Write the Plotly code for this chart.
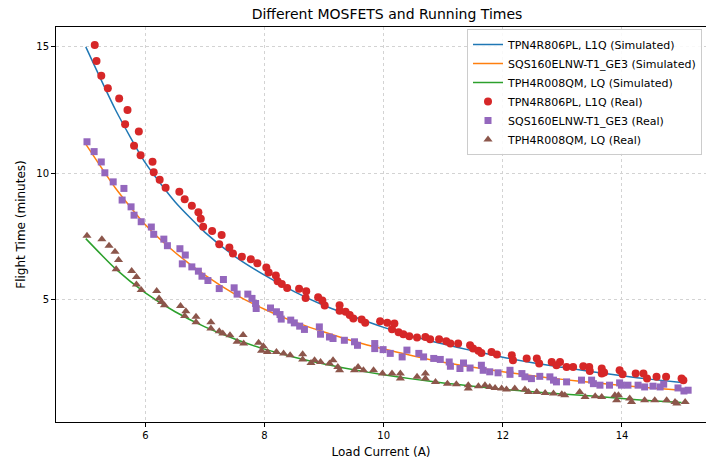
import plotly.graph_objects as go

# ---- Simulated curves (read at 0.5 A steps) ----
sim_x = [5.0, 5.5, 6.0, 6.5, 7.0, 7.5, 8.0, 8.5, 9.0, 9.5, 10.0, 10.5,
         11.0, 11.5, 12.0, 12.5, 13.0, 13.5, 14.0, 14.5, 15.0]
sim_tpn = [15.0, 12.5, 10.4, 8.85, 7.65, 6.7, 5.95, 5.3, 4.75, 4.3, 3.88, 3.52,
           3.22, 2.95, 2.7, 2.48, 2.3, 2.12, 1.96, 1.82, 1.7]
sim_sqs = [11.15, 9.4, 7.95, 6.85, 5.95, 5.2, 4.6, 4.1, 3.7, 3.33, 3.02, 2.75,
           2.5, 2.3, 2.12, 1.96, 1.82, 1.7, 1.58, 1.48, 1.39]
sim_tph = [7.4, 6.2, 5.25, 4.5, 3.9, 3.42, 3.02, 2.7, 2.43, 2.2, 2.0, 1.83,
           1.68, 1.55, 1.43, 1.33, 1.24, 1.16, 1.06, 0.97, 0.9]

# ---- Real measurements ----
real_tpn_x = [5.15, 5.18, 5.26, 5.37, 5.56, 5.70, 5.66, 5.89, 5.81, 5.92, 6.12, 6.14,
              6.24, 6.34, 6.57, 6.66, 6.78, 6.89, 6.93, 6.97, 7.12, 7.28, 7.24, 7.41,
              7.47, 7.62, 7.77, 7.88, 8.03, 8.07, 8.19, 8.22, 8.29, 8.38, 8.58, 8.70,
              8.69, 8.90, 8.97, 9.01, 9.26, 9.26, 9.36, 9.43, 9.49, 9.63, 9.69, 9.94,
              10.06, 10.18, 10.14, 10.25, 10.33, 10.43, 10.56, 10.70, 10.78, 10.93, 11.05, 11.12,
              11.25, 11.45, 11.50, 11.59, 11.64, 11.81, 11.90, 12.15, 12.17, 12.40, 12.57, 12.61,
              12.82, 12.90, 12.96, 13.07, 13.18, 13.35, 13.45, 13.46, 13.66, 13.66, 13.70, 13.96,
              14.01, 14.23, 14.36, 14.42, 14.58, 14.74, 15.00, 15.03]
real_tpn_y = [15.08, 14.44, 13.86, 13.36, 12.96, 12.50, 11.93, 11.65, 11.08, 10.71, 10.45, 10.03,
              9.73, 9.42, 9.26, 8.96, 8.70, 8.45, 8.19, 7.87, 7.70, 7.54, 7.18, 7.05,
              6.81, 6.68, 6.58, 6.42, 6.26, 6.06, 5.94, 5.71, 5.60, 5.44, 5.41, 5.31,
              5.05, 5.08, 4.95, 4.75, 4.76, 4.54, 4.50, 4.37, 4.23, 4.19, 4.06, 4.12,
              4.06, 4.04, 3.81, 3.69, 3.61, 3.53, 3.48, 3.50, 3.41, 3.41, 3.33, 3.24,
              3.24, 3.17, 3.04, 2.95, 2.87, 2.91, 2.81, 2.78, 2.58, 2.65, 2.65, 2.45,
              2.51, 2.38, 2.51, 2.31, 2.31, 2.34, 2.31, 2.15, 2.25, 2.05, 2.09, 2.18,
              2.02, 2.05, 2.05, 1.85, 1.92, 1.92, 1.85, 1.79]

real_sqs_x = [5.02, 5.14, 5.26, 5.32, 5.46, 5.64, 5.61, 5.76, 5.81, 5.93, 6.10, 6.14,
              6.31, 6.37, 6.58, 6.67, 6.62, 6.78, 6.89, 6.95, 7.05, 7.31, 7.24, 7.49,
              7.54, 7.72, 7.79, 7.85, 7.86, 8.10, 8.20, 8.26, 8.28, 8.44, 8.50, 8.59,
              8.67, 8.92, 8.94, 9.09, 9.15, 9.34, 9.51, 9.56, 9.85, 9.85, 9.99, 10.11,
              10.31, 10.39, 10.59, 10.67, 10.84, 10.95, 11.10, 11.12, 11.28, 11.34, 11.45, 11.64,
              11.67, 11.78, 11.92, 12.12, 12.12, 12.32, 12.37, 12.48, 12.62, 12.79, 12.85, 12.90,
              13.07, 13.32, 13.49, 13.52, 13.63, 13.79, 13.96, 13.99, 14.10, 14.27, 14.38, 14.52,
              14.64, 14.70, 14.94, 15.04, 15.11]
real_sqs_y = [11.24, 10.85, 10.44, 10.01, 9.65, 9.39, 8.93, 8.66, 8.33, 8.07, 7.86, 7.57,
              7.38, 7.12, 7.00, 6.75, 6.40, 6.28, 6.11, 5.91, 5.74, 5.78, 5.42, 5.45,
              5.20, 5.20, 5.03, 4.83, 4.63, 4.65, 4.50, 4.39, 4.21, 4.17, 4.06, 3.93,
              3.80, 3.90, 3.61, 3.50, 3.44, 3.37, 3.31, 3.17, 3.24, 3.04, 3.00, 2.85,
              2.71, 2.98, 2.85, 2.71, 2.65, 2.61, 2.51, 2.34, 2.25, 2.47, 2.27, 2.38,
              2.18, 2.12, 2.08, 2.18, 2.02, 2.05, 1.92, 1.85, 1.94, 1.92, 1.79, 1.72,
              1.72, 1.79, 1.79, 1.65, 1.59, 1.59, 1.68, 1.59, 1.59, 1.59, 1.52, 1.55,
              1.52, 1.63, 1.48, 1.36, 1.39]

real_tph_x = [5.02, 5.27, 5.39, 5.49, 5.55, 5.51, 5.77, 5.85, 5.85, 5.93, 6.19, 6.23,
              6.27, 6.32, 6.59, 6.68, 6.66, 6.85, 6.85, 7.10, 7.10, 7.24, 7.30, 7.42,
              7.64, 7.54, 7.65, 7.90, 7.98, 7.95, 8.05, 8.20, 8.32, 8.43, 8.64, 8.64,
              8.78, 8.84, 8.94, 9.09, 9.15, 9.23, 9.26, 9.51, 9.57, 9.66, 9.83, 9.98,
              10.14, 10.28, 10.28, 10.56, 10.70, 10.70, 10.87, 11.07, 11.22, 11.42, 11.42, 11.59,
              11.70, 11.78, 11.87, 11.98, 12.06, 12.20, 12.37, 12.43, 12.57, 12.71, 12.85, 12.99,
              13.04, 13.29, 13.38, 13.55, 13.66, 13.88, 13.94, 13.91, 14.13, 14.16, 14.38, 14.55,
              14.75, 14.89, 14.92, 15.06]
real_tph_y = [7.51, 7.38, 7.12, 6.88, 6.55, 6.19, 6.12, 5.88, 5.58, 5.36, 5.32, 5.03,
              4.89, 4.76, 4.73, 4.52, 4.33, 4.30, 4.08, 4.08, 3.84, 3.73, 3.64, 3.57,
              3.58, 3.31, 3.24, 3.27, 3.13, 2.95, 2.91, 2.91, 2.85, 2.78, 2.82, 2.61,
              2.47, 2.58, 2.51, 2.45, 2.58, 2.31, 2.18, 2.18, 2.31, 2.18, 2.18, 2.05,
              2.05, 2.05, 1.85, 1.92, 1.85, 2.05, 1.72, 1.65, 1.63, 1.59, 1.46, 1.55,
              1.59, 1.52, 1.48, 1.46, 1.42, 1.46, 1.42, 1.32, 1.32, 1.28, 1.26, 1.23,
              1.19, 1.32, 1.12, 1.15, 1.12, 1.19, 1.19, 0.99, 1.06, 0.92, 0.99, 0.99,
              0.99, 0.92, 0.86, 0.92]

names = ["TPN4R806PL, L1Q", "SQS160ELNW-T1_GE3", "TPH4R008QM, LQ"]
line_colors = ["#1f77b4", "#ff7f0e", "#2ca02c"]
mark_colors = ["#d62728", "#9467bd", "#8c564b"]
mark_symbols = ["circle", "square", "triangle-up"]
mark_sizes = [8, 7, 8]

fig = go.Figure()
for name, ys, c in zip(names, [sim_tpn, sim_sqs, sim_tph], line_colors):
    fig.add_trace(go.Scatter(x=sim_x, y=ys, mode="lines", name=f"{name} (Simulated)",
                             line=dict(color=c, width=1.5, shape="spline", smoothing=0.6)))
reals = [(real_tpn_x, real_tpn_y), (real_sqs_x, real_sqs_y), (real_tph_x, real_tph_y)]
for name, (xs, ys), c, s, sz in zip(names, reals, mark_colors, mark_symbols, mark_sizes):
    fig.add_trace(go.Scatter(x=xs, y=ys, mode="markers", name=f"{name} (Real)",
                             marker=dict(color=c, symbol=s, size=sz, line=dict(width=0))))

axis_common = dict(showline=True, linecolor="black", linewidth=1,
                   ticks="outside", ticklen=4, tickcolor="black", automargin=False,
                   showgrid=True, gridcolor="#d3d3d3", griddash="dot", gridwidth=1,
                   zeroline=False, tickfont=dict(size=10, color="black"))

fig.update_layout(
    width=706, height=461,
    margin=dict(l=56, r=0, t=27, b=39),
    paper_bgcolor="white", plot_bgcolor="white",
    font=dict(family="DejaVu Sans", color="black"),
    title=dict(text="Different MOSFETS and Running Times", x=387 / 706, xanchor="center",
               xref="container", y=1 - 14 / 461, yref="container", yanchor="middle",
               font=dict(size=14), automargin=False),
    legend=dict(x=(467 - 56) / 650, y=(422 - 29) / 395, xanchor="left", yanchor="top",
                bgcolor="rgba(255,255,255,0.85)", bordercolor="#cccccc", borderwidth=1,
                font=dict(size=11), tracegroupgap=0, itemwidth=30),
    xaxis=dict(range=[4.5, 15.41], tickvals=[6, 8, 10, 12, 14], mirror=True,
               title=dict(text="Load Current (A)", font=dict(size=12), standoff=7),
               **axis_common),
    yaxis=dict(range=[0.13, 15.79], tickvals=[5, 10, 15], mirror=False,
               title=dict(text="Flight Time (minutes)", font=dict(size=12), standoff=8),
               **axis_common),
)

fig.write_html("out.html", config={"displayModeBar": False},
               post_script="document.body.style.margin='0';document.body.style.overflow='hidden';")
